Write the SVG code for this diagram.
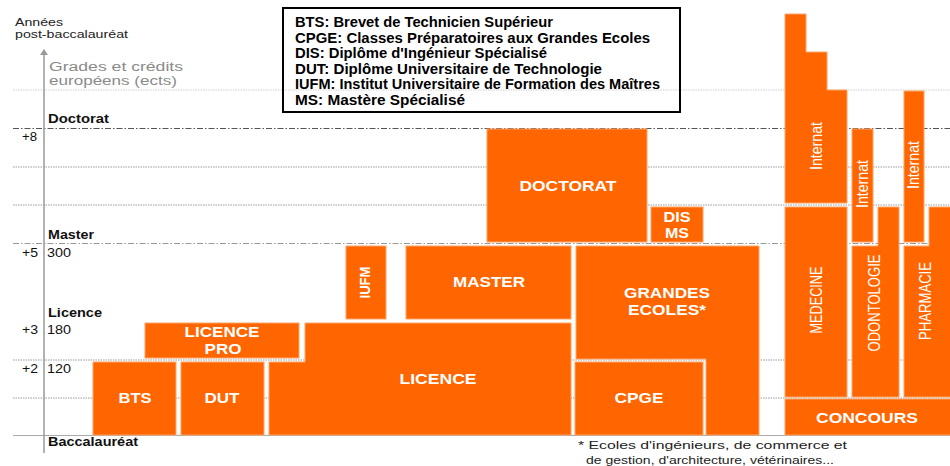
<svg xmlns="http://www.w3.org/2000/svg" width="950" height="466" viewBox="0 0 950 466">
<style>
.blk{fill:#FF6600;stroke:#ffa466;stroke-width:1}
.lbl{font-family:"Liberation Sans",Arial,sans-serif;font-weight:bold;font-size:14px;fill:#fff;text-anchor:middle}
.vlbl{font-family:"Liberation Sans",Arial,sans-serif;font-size:16px;fill:#fff;text-anchor:middle}
.ax{font-family:"Liberation Sans",Arial,sans-serif;font-size:13px;fill:#111}
.axs{font-family:"Liberation Sans",Arial,sans-serif;font-size:11.5px;fill:#222}
.axb{font-family:"Liberation Sans",Arial,sans-serif;font-size:13px;font-weight:bold;fill:#111}
.gray{font-family:"Liberation Sans",Arial,sans-serif;font-size:12px;fill:#8a8a8a}
.leg{font-family:"Liberation Sans",Arial,sans-serif;font-size:14px;font-weight:bold;fill:#000}
.note{font-family:"Liberation Sans",Arial,sans-serif;font-size:11px;fill:#222}
.dot{stroke:#9a9a9a;stroke-width:1;stroke-dasharray:1.5 1;fill:none}
.dotl{stroke:#cfcfcf;stroke-width:1;stroke-dasharray:1.5 1;fill:none}
.dd{stroke:#555;stroke-width:1;stroke-dasharray:6 2 1.5 2;fill:none}
.ddl{stroke:#999;stroke-width:1;stroke-dasharray:6 2 1.5 2;fill:none}
</style>
<defs>
<marker id="arr" markerWidth="8" markerHeight="8" refX="4" refY="4" orient="auto" markerUnits="userSpaceOnUse">
<path d="M0,7 L4,1 L8,7 Z" fill="#999" transform="rotate(90 4 4)"/>
</marker>
</defs>
<rect width="950" height="466" fill="#fff"/>

<g id="grid">
<line class="dotl" x1="13" y1="90" x2="950" y2="90"/>
<line class="dd" x1="13" y1="128.5" x2="950" y2="128.5"/>
<line class="dot" x1="13" y1="167" x2="950" y2="167"/>
<line class="dot" x1="13" y1="205" x2="950" y2="205"/>
<line class="ddl" x1="13" y1="243.5" x2="950" y2="243.5"/>
<line class="dot" x1="13" y1="360" x2="950" y2="360"/>
<line class="dot" x1="13" y1="398" x2="950" y2="398"/>
<line x1="13" y1="435.5" x2="950" y2="435.5" stroke="#aaa" stroke-width="1"/>
</g>

<g id="axis">
<line x1="44" y1="453" x2="44" y2="52" stroke="#999" stroke-width="1.5" marker-end="url(#arr)"/>
<text class="axs" x="15" y="26" textLength="48" lengthAdjust="spacingAndGlyphs">Années</text>
<text class="axs" x="15" y="38" textLength="113" lengthAdjust="spacingAndGlyphs">post-baccalauréat</text>
<text class="gray" x="49" y="71" textLength="134" lengthAdjust="spacingAndGlyphs">Grades et crédits</text>
<text class="gray" x="49" y="85" textLength="128" lengthAdjust="spacingAndGlyphs">européens (ects)</text>
<text class="axb" x="48" y="123" textLength="61" lengthAdjust="spacingAndGlyphs">Doctorat</text>
<text class="ax" x="22" y="141" textLength="15" lengthAdjust="spacingAndGlyphs">+8</text>
<text class="axb" x="48" y="239" textLength="46" lengthAdjust="spacingAndGlyphs">Master</text>
<text class="ax" x="22" y="257" textLength="16" lengthAdjust="spacingAndGlyphs">+5</text>
<text class="ax" x="47" y="257" textLength="24" lengthAdjust="spacingAndGlyphs">300</text>
<text class="axb" x="48" y="317" textLength="54" lengthAdjust="spacingAndGlyphs">Licence</text>
<text class="ax" x="22" y="334" textLength="16" lengthAdjust="spacingAndGlyphs">+3</text>
<text class="ax" x="47" y="334" textLength="24" lengthAdjust="spacingAndGlyphs">180</text>
<text class="ax" x="22" y="373" textLength="16" lengthAdjust="spacingAndGlyphs">+2</text>
<text class="ax" x="47" y="373" textLength="24" lengthAdjust="spacingAndGlyphs">120</text>
<text class="axb" x="48" y="446" textLength="90" lengthAdjust="spacingAndGlyphs">Baccalauréat</text>
</g>

<g id="legend">
<rect x="283" y="8" width="397" height="104" fill="none" stroke="#000" stroke-width="2"/>
<text class="leg" x="295" y="27" textLength="258" lengthAdjust="spacingAndGlyphs">BTS: Brevet de Technicien Supérieur</text>
<text class="leg" x="295" y="43" textLength="355" lengthAdjust="spacingAndGlyphs">CPGE: Classes Préparatoires aux Grandes Ecoles</text>
<text class="leg" x="295" y="58" textLength="252" lengthAdjust="spacingAndGlyphs">DIS: Diplôme d'Ingénieur Spécialisé</text>
<text class="leg" x="295" y="74" textLength="307" lengthAdjust="spacingAndGlyphs">DUT: Diplôme Universitaire de Technologie</text>
<text class="leg" x="295" y="89" textLength="365" lengthAdjust="spacingAndGlyphs">IUFM: Institut Universitaire de Formation des Maîtres</text>
<text class="leg" x="295" y="105" textLength="170" lengthAdjust="spacingAndGlyphs">MS: Mastère Spécialisé</text>
</g>

<g id="bts"><rect class="blk" x="93" y="362" width="83" height="73"/><text class="lbl" x="135" y="403" textLength="33" lengthAdjust="spacingAndGlyphs">BTS</text></g>
<g id="dut"><rect class="blk" x="181" y="362" width="83" height="73"/><text class="lbl" x="222" y="403" textLength="35" lengthAdjust="spacingAndGlyphs">DUT</text></g>
<g id="licencepro"><rect class="blk" x="145" y="323" width="154" height="35"/><text class="lbl" x="222" y="337" textLength="75" lengthAdjust="spacingAndGlyphs">LICENCE</text><text class="lbl" x="223" y="354" textLength="37" lengthAdjust="spacingAndGlyphs">PRO</text></g>
<g id="licence"><polygon class="blk" points="305,323 571,323 571,435 269,435 269,362 305,362"/><text class="lbl" x="438" y="384" textLength="77" lengthAdjust="spacingAndGlyphs">LICENCE</text></g>
<g id="iufm"><rect class="blk" x="346" y="246" width="40" height="73"/><text class="lbl" transform="translate(370,282.5) rotate(-90)" x="0" y="0" textLength="32" lengthAdjust="spacingAndGlyphs">IUFM</text></g>
<g id="master"><rect class="blk" x="406" y="246" width="165" height="73"/><text class="lbl" x="489" y="287" textLength="72" lengthAdjust="spacingAndGlyphs">MASTER</text></g>
<g id="doctorat"><rect class="blk" x="487" y="129" width="160" height="113"/><text class="lbl" x="568" y="191" textLength="97" lengthAdjust="spacingAndGlyphs">DOCTORAT</text></g>
<g id="disms"><rect class="blk" x="651" y="207" width="52" height="35"/><text class="lbl" x="677" y="222" textLength="27" lengthAdjust="spacingAndGlyphs">DIS</text><text class="lbl" x="677" y="238" textLength="24" lengthAdjust="spacingAndGlyphs">MS</text></g>
<g id="grandesecoles"><polygon class="blk" points="576,246 759,246 759,435 706,435 706,359 576,359"/><text class="lbl" x="667" y="298" textLength="86" lengthAdjust="spacingAndGlyphs">GRANDES</text><text class="lbl" x="667" y="315" textLength="78" lengthAdjust="spacingAndGlyphs">ECOLES*</text></g>
<g id="cpge"><rect class="blk" x="575" y="362" width="128" height="73"/><text class="lbl" x="639" y="403" textLength="49" lengthAdjust="spacingAndGlyphs">CPGE</text></g>

<g id="internat-medecine"><polygon class="blk" points="785,14 806,14 806,52 827,52 827,90 847,90 847,203 785,203"/><text class="vlbl" transform="translate(822,146) rotate(-90)" x="0" y="0" textLength="48" lengthAdjust="spacingAndGlyphs">Internat</text></g>
<g id="medecine"><rect class="blk" x="785" y="207" width="62" height="190"/><text class="vlbl" transform="translate(822,300) rotate(-90)" x="0" y="0" textLength="67" lengthAdjust="spacingAndGlyphs">MEDECINE</text></g>
<g id="internat-odontologie"><rect class="blk" x="852" y="129" width="21" height="113"/><text class="vlbl" transform="translate(868,184) rotate(-90)" x="0" y="0" textLength="48" lengthAdjust="spacingAndGlyphs">Internat</text></g>
<g id="odontologie"><polygon class="blk" points="852,246 878,246 878,207 899,207 899,397 852,397"/><text class="vlbl" transform="translate(880,303) rotate(-90)" x="0" y="0" textLength="97" lengthAdjust="spacingAndGlyphs">ODONTOLOGIE</text></g>
<g id="internat-pharmacie"><rect class="blk" x="904" y="91" width="20" height="151"/><text class="vlbl" transform="translate(919,165) rotate(-90)" x="0" y="0" textLength="48" lengthAdjust="spacingAndGlyphs">Internat</text></g>
<g id="pharmacie"><polygon class="blk" points="904,246 929,246 929,207 951,207 951,397 904,397"/><text class="vlbl" transform="translate(931,301) rotate(-90)" x="0" y="0" textLength="78" lengthAdjust="spacingAndGlyphs">PHARMACIE</text></g>
<g id="concours"><rect class="blk" x="785" y="399" width="166" height="36"/><text class="lbl" x="867" y="423" textLength="102" lengthAdjust="spacingAndGlyphs">CONCOURS</text></g>

<g id="connectors"></g>

<g id="footnote">
<text class="note" x="578" y="449" textLength="269" lengthAdjust="spacingAndGlyphs">* Ecoles d'ingénieurs, de commerce et</text>
<text class="note" x="586" y="464" textLength="248" lengthAdjust="spacingAndGlyphs">de gestion, d'architecture, vétérinaires...</text>
</g>
</svg>
